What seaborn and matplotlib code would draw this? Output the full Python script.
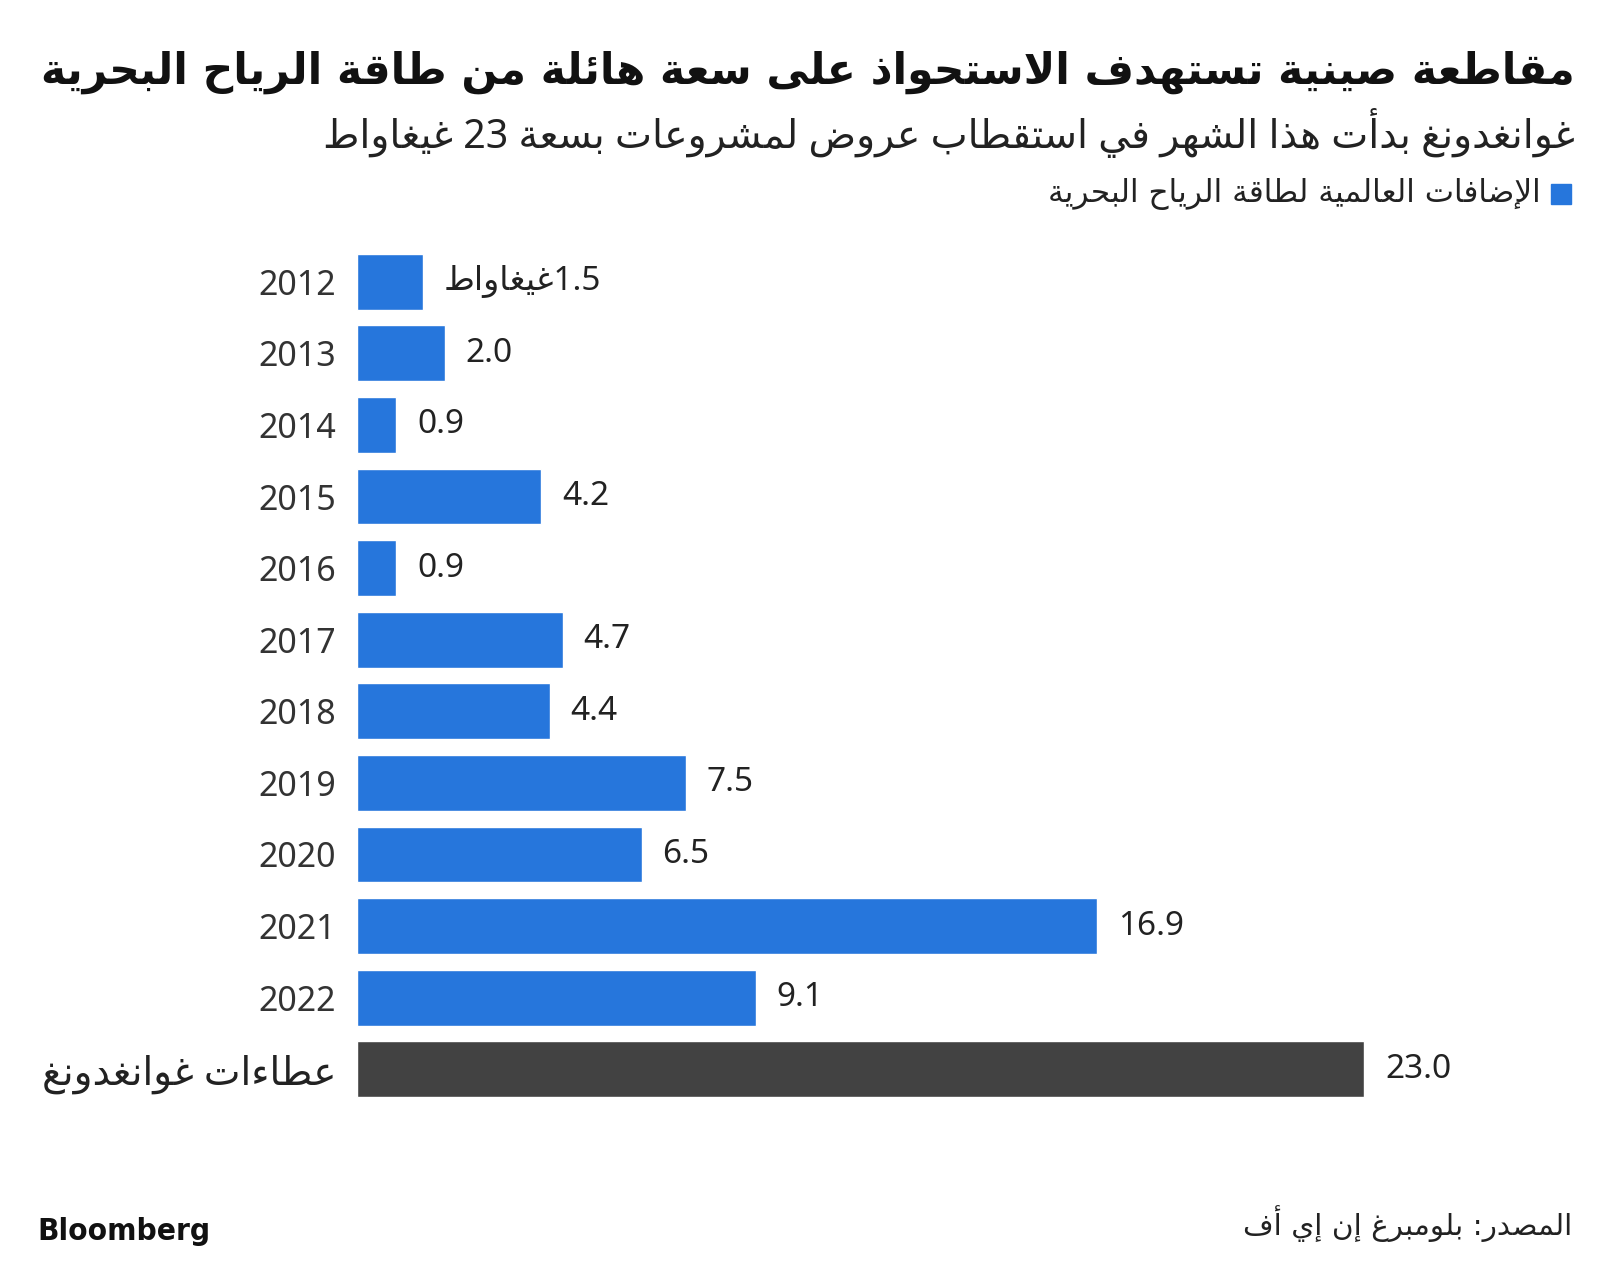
import re
import matplotlib
matplotlib.use("Agg")
import matplotlib.pyplot as plt
import seaborn as sns
import pandas as pd

# ---------------- data ----------------
categories = ["2012", "2013", "2014", "2015", "2016", "2017", "2018", "2019",
              "2020", "2021", "2022", "عطاءات غوانغدونغ"]
values = [1.5, 2.0, 0.9, 4.2, 0.9, 4.7, 4.4, 7.5, 6.5, 16.9, 9.1, 23.0]
unit = "غيغاواط"
title = "مقاطعة صينية تستهدف الاستحواذ على سعة هائلة من طاقة الرياح البحرية"
subtitle = "غوانغدونغ بدأت هذا الشهر في استقطاب عروض لمشروعات بسعة 23 غيغاواط"
legend_label = "الإضافات العالمية لطاقة الرياح البحرية"
source = "المصدر: بلومبرغ إن إي أف"

BLUE = "#2676dc"
DARK = "#424242"

# ---------------- minimal Arabic shaping (presentation forms + RTL order) ----------------
DUAL = {'ئ': 0xFE89, 'ب': 0xFE8F, 'ت': 0xFE95, 'ث': 0xFE99, 'ج': 0xFE9D, 'ح': 0xFEA1,
        'خ': 0xFEA5, 'س': 0xFEB1, 'ش': 0xFEB5, 'ص': 0xFEB9, 'ض': 0xFEBD, 'ط': 0xFEC1,
        'ظ': 0xFEC5, 'ع': 0xFEC9, 'غ': 0xFECD, 'ف': 0xFED1, 'ق': 0xFED5, 'ك': 0xFED9,
        'ل': 0xFEDD, 'م': 0xFEE1, 'ن': 0xFEE5, 'ه': 0xFEE9, 'ي': 0xFEF1}
RIGHT = {'آ': 0xFE81, 'أ': 0xFE83, 'ؤ': 0xFE85, 'إ': 0xFE87, 'ا': 0xFE8D, 'ة': 0xFE93,
         'د': 0xFEA9, 'ذ': 0xFEAB, 'ر': 0xFEAD, 'ز': 0xFEAF, 'و': 0xFEED, 'ى': 0xFEEF}
NONJ = {'ء': 0xFE80}
LAMALEF = {'آ': 0xFEF5, 'أ': 0xFEF7, 'إ': 0xFEF9, 'ا': 0xFEFB}


def shape(s):
    out = []
    i, n = 0, len(s)
    while i < n:
        c = s[i]
        jp = i > 0 and s[i - 1] in DUAL
        if c == 'ل' and i + 1 < n and s[i + 1] in LAMALEF:
            out.append(chr(LAMALEF[s[i + 1]] + (1 if jp else 0)))
            i += 2
            continue
        if c in DUAL:
            jn = i + 1 < n and (s[i + 1] in DUAL or s[i + 1] in RIGHT)
            form = 3 if (jp and jn) else 1 if jp else 2 if jn else 0
            out.append(chr(DUAL[c] + form))
        elif c in RIGHT:
            out.append(chr(RIGHT[c] + (1 if jp else 0)))
        elif c in NONJ:
            out.append(chr(NONJ[c]))
        else:
            out.append(c)
        i += 1
    vis = ''.join(out)[::-1]
    vis = re.sub(r'[0-9][0-9.,]*', lambda m: m.group(0)[::-1], vis)
    return vis


# ---------------- figure ----------------
sns.set_theme(style="white")
plt.rcParams['font.family'] = ['Noto Sans', 'DejaVu Sans']

W, H = 1600, 1272
fig = plt.figure(figsize=(16, 12.72), dpi=100)
fig.patch.set_facecolor("white")

ax_left, ax_right = 357 / W, 1452 / W
ax_top, ax_bot = 1 - 246 / H, 1 - 1105 / H
ax = fig.add_axes([ax_left, ax_bot, ax_right - ax_left, ax_top - ax_bot])

labels_vis = [shape(c) for c in categories]
df = pd.DataFrame({"cat": labels_vis, "val": values})
colors = [BLUE] * (len(values) - 1) + [DARK]
sns.barplot(data=df, x="val", y="cat", hue="cat", palette=colors, legend=False,
            width=0.78, saturation=1, ax=ax, order=labels_vis)
ax.set_xlim(0, 25)
for sp in ax.spines.values():
    sp.set_visible(False)
ax.set_xticks([])
ax.set_xlabel("")
ax.set_ylabel("")
ax.tick_params(axis="y", length=0, pad=15, labelsize=24.5, labelcolor="#333333")
ax.grid(False)
last_lbl = ax.get_yticklabels()[-1]
last_lbl.set_fontsize(28)
last_lbl.set_color("#222222")
ax.get_yaxis().set_tick_params(pad=15)

for i, v in enumerate(values):
    txt = f"{v:.1f}"
    if i == 0:
        txt = shape(txt + unit)
    ax.annotate(txt, xy=(v, i), xytext=(15, 0), textcoords="offset points",
                ha="left", va="center", fontsize=24, color="#222222")

renderer = fig.canvas.get_renderer()


def fit(t, target_px):
    ext = t.get_window_extent(renderer)
    t.set_fontsize(t.get_fontsize() * target_px / ext.width)


t_title = fig.text(1575 / W, 1 - 72 / H, shape(title), ha="right", va="center",
                   fontsize=30, fontweight="bold", color="#111111",
                   family=["DejaVu Sans"])
fit(t_title, 1532)
t_sub = fig.text(1575 / W, 1 - 133 / H, shape(subtitle), ha="right", va="center",
                 fontsize=24, color="#222222", family=["Noto Sans", "DejaVu Sans"])
fit(t_sub, 1254)

# legend
fig.patches.append(plt.Rectangle((1551 / W, 1 - 204 / H), 20 / W, 20 / H,
                                 transform=fig.transFigure, color=BLUE))
t_leg = fig.text(1541 / W, 1 - 194 / H, shape(legend_label), ha="right", va="center",
                 fontsize=18, color="#222222", family=["DejaVu Sans"])
fit(t_leg, 493)

t_src = fig.text(1572 / W, 1 - 1224 / H, shape(source), ha="right", va="center",
                 fontsize=16, color="#222222", family=["DejaVu Sans"])
fit(t_src, 329)
t_bb = fig.text(37 / W, 1 - 1232 / H, "Bloomberg", ha="left", va="center",
                fontsize=20, fontweight="bold", fontstretch="condensed",
                color="#111111", family=["DejaVu Sans"])
fit(t_bb, 173)

fig.savefig("out.png", dpi=100, facecolor="white")
